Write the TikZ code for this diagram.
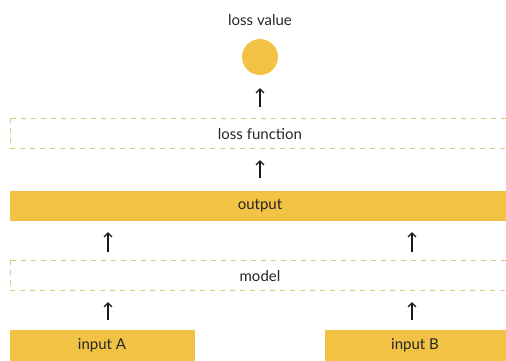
\documentclass[tikz,border=0pt]{standalone}
\usepackage{fontspec}
\setmainfont{Lato}
\usetikzlibrary{arrows.meta}
\definecolor{gold}{HTML}{F2C245}
\definecolor{dashc}{HTML}{D9CB78}
\tikzset{
  x=1pt,y=-1pt,
  lbl/.style={font=\fontsize{15}{17}\selectfont, text=black!85},
  dashbar/.style={draw=dashc, line width=0.9pt, dash pattern=on 5pt off 5pt, fill=white},
  up/.style={-{Straight Barb[length=4pt,width=8pt]}, line width=1.3pt, black!90},
}
\begin{document}
\begin{tikzpicture}
\useasboundingbox (0,0) rectangle (506,360);
% loss value
\node[lbl] (lv) at (260,20) {loss value};
\node[circle, fill=gold, minimum size=36pt, inner sep=0pt] (circ) at (260,57) {};
% loss function
\draw[dashbar] (10,118) rectangle (508,148);
\node[lbl] (lf) at (260,134) {loss function};
% output
\fill[gold] (10,191) rectangle (506,221);
\node[lbl] (out) at (260,206) {output};
% model
\draw[dashbar] (10,260) rectangle (508,290);
\node[lbl] (model) at (260,276) {model};
% inputs
\fill[gold] (10,330) rectangle (195,362);
\node[lbl] (inA) at (102,345) {input A};
\fill[gold] (325,330) rectangle (508,362);
\node[lbl] (inB) at (415,345) {input B};
% arrow end coordinates
\coordinate (a1s) at (260,107); \coordinate (a1e) at (260,88);
\coordinate (a2s) at (260,178); \coordinate (a2e) at (260,160);
\coordinate (a3s) at (108,252); \coordinate (a3e) at (108,232);
\coordinate (a4s) at (412,252); \coordinate (a4e) at (412,232);
\coordinate (a5s) at (108,320); \coordinate (a5e) at (108,302);
\coordinate (a6s) at (412,320); \coordinate (a6e) at (412,302);
\draw[up] (a1s) -- (a1e);
\draw[up] (a2s) -- (a2e);
\draw[up] (a3s) -- (a3e);
\draw[up] (a4s) -- (a4e);
\draw[up] (a5s) -- (a5e);
\draw[up] (a6s) -- (a6e);
\end{tikzpicture}
\end{document}
